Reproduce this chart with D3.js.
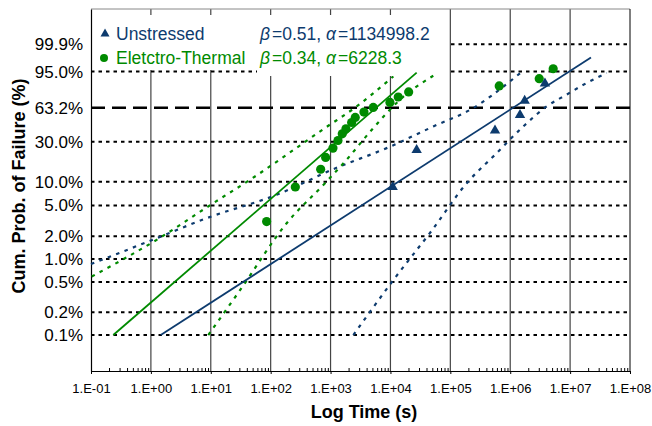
<!DOCTYPE html>
<html>
<head>
<meta charset="utf-8">
<script src="https://cdnjs.cloudflare.com/ajax/libs/d3/7.8.5/d3.min.js"></script>
<style>
body { margin: 0; background: #fff; }
svg { display: block; font-family: "Liberation Sans", Arial, sans-serif; }
</style>
</head>
<body>
<svg id="chart" width="652" height="426"></svg>
<script>
// ---- data (time in s, cumulative failure in %) ----
var unstressedT = [10890, 27400, 557000, 1456000, 1743000, 3800000];
var unstressedF = [8.9, 25.0, 40.5, 56.7, 72.4, 88.6];

var thermalT = [85.7, 258, 684, 828, 1097, 1330, 1568, 1807, 2250, 2583, 3610, 5164, 9817, 13500, 20130, 654800, 3050000, 5220000];
var thermalF = [3.1, 8.6, 14.3, 19.8, 25.4, 30.9, 36.4, 41.0, 47.2, 52.5, 58.4, 63.5, 69.1, 75.0, 80.1, 85.6, 91.1, 96.2];

// fitted lines, [t, F%] end points
var unstressedFit = [[1.46, 0.1], [2.23e7, 99.0]];
var thermalFit = [[0.2355, 0.1], [27400, 94.5]];

// confidence bounds, [t, F%]
var unstressedUpper = [[0.1, 0.86], [1.25, 1.88], [8.55, 3.43], [126, 6.85], [1233, 14.8], [8650, 25.4], [51900, 43.2], [241500, 62.9], [990000, 89.2], [1570000, 95.0]];
var unstressedLower = [[2400, 0.1], [11170, 0.53], [48860, 2.36], [187600, 9.6], [557000, 21.3], [1650000, 43.2], [4060000, 64.7], [8770000, 77.5], [18900000, 88.0], [40800000, 94.4]];
var thermalUpper = [[0.1027, 0.59], [1.25, 1.79], [11.0, 5.36], [45.2, 10.6], [807, 41.7], [2730, 64.7], [11170, 92.5]];
var thermalLower = [[9.08, 0.1], [30.8, 0.39], [185, 2.95], [807, 9.6], [1742, 17.7], [5176, 41.7], [14420, 72.1], [51900, 92.9]];

var yTicks = [0.1, 0.2, 0.5, 1, 2, 5, 10, 30, 63.2, 95, 99.9];
var xTicks = [1e-1, 1e0, 1e1, 1e2, 1e3, 1e4, 1e5, 1e6, 1e7, 1e8];

var legendNames = ["Unstressed", "Eletctro-Thermal"];
var legendBeta = ["0.51", "0.34"];
var legendAlpha = ["1134998.2", "6228.3"];

var blue = "#0d3b6e", green = "#008a00";

var svg = d3.select("#chart");
var pLeft = 91, pRight = 630, pTop = 9, pBottom = 371;

// weibull probability transform
function wb(F) { return Math.log(-Math.log(1 - F / 100)); }

var x = d3.scaleLog().domain([1e-1, 1e8]).range([pLeft, pRight]);
var y = d3.scaleLinear().domain([-8, 3]).range([pBottom, pTop]);

// vertical gridlines
svg.append("g").selectAll("line")
  .data(xTicks.slice(1, -1))
  .enter().append("line")
  .attr("x1", d => x(d)).attr("x2", d => x(d))
  .attr("y1", pTop).attr("y2", pBottom)
  .attr("stroke", "#444").attr("stroke-width", 1.2);

// horizontal gridlines
svg.append("g").selectAll("line")
  .data(yTicks)
  .enter().append("line")
  .attr("x1", pLeft).attr("x2", pRight)
  .attr("y1", d => y(wb(d))).attr("y2", d => y(wb(d)))
  .attr("stroke", "#000")
  .attr("stroke-width", d => d == 63.2 ? 2.4 : 2)
  .attr("stroke-dasharray", d => d == 63.2 ? "14,7" : "3.5,4");

// frame
svg.append("line").attr("x1", pLeft).attr("x2", pRight).attr("y1", pTop).attr("y2", pTop)
  .attr("stroke", "#888").attr("stroke-width", 1);
svg.append("line").attr("x1", pRight).attr("x2", pRight).attr("y1", pTop).attr("y2", pBottom)
  .attr("stroke", "#000").attr("stroke-width", 1);

// legend backgrounds (hide gridlines behind)
svg.append("rect").attr("x", pLeft + 1).attr("y", 15).attr("width", 166).attr("height", 55).attr("fill", "#fff");
svg.append("rect").attr("x", 257).attr("y", 15).attr("width", 191).attr("height", 61).attr("fill", "#fff");

// x axis
var xAxis = d3.axisBottom(x).tickValues(xTicks).tickSize(3).tickSizeOuter(0).tickPadding(10)
  .tickFormat(function (d) {
    var e = Math.round(Math.log10(d));
    return "1.E" + (e < 0 ? "-" : "+") + String(Math.abs(e)).padStart(2, "0");
  });
var gx = svg.append("g").attr("transform", "translate(0," + pBottom + ")").call(xAxis);
gx.select(".domain").attr("stroke", "#000").attr("stroke-width", 1.2);
gx.selectAll(".tick line").attr("stroke", "#000");
gx.selectAll(".tick text").attr("font-size", 13).attr("font-family", null).attr("fill", "#000").attr("dy", "0.71em");

// minor ticks (inside)
var minors = [];
xTicks.slice(0, -1).forEach(function (d) { for (var k = 2; k < 10; k++) minors.push(d * k); });
svg.append("g").attr("transform", "translate(0," + pBottom + ")")
  .call(d3.axisBottom(x).tickValues(minors).tickSize(-3).tickFormat(""))
  .call(g => g.select(".domain").remove())
  .selectAll(".tick line").attr("stroke", "#000");

// y axis
var yAxis = d3.axisLeft(y).tickValues(yTicks.map(wb)).tickSize(0).tickPadding(8)
  .tickFormat(function (d, i) { return d3.format(".1f")(yTicks[i]) + "%"; });
var gy = svg.append("g").attr("transform", "translate(" + pLeft + ",0)").call(yAxis);
gy.select(".domain").attr("stroke", "#000").attr("stroke-width", 1.2);
gy.selectAll(".tick text").attr("font-size", 17).attr("font-family", null).attr("fill", "#000");

// axis titles
svg.append("text").attr("x", 364).attr("y", 418).attr("text-anchor", "middle")
  .attr("font-size", 18).attr("font-weight", "bold").text("Log Time (s)");
svg.append("text").attr("transform", "translate(25,186) rotate(-90)").attr("text-anchor", "middle")
  .attr("font-size", 18).attr("font-weight", "bold").text("Cum. Prob. of Failure (%)");

// lines
var line = d3.line().x(d => x(d[0])).y(d => y(wb(d[1]))).curve(d3.curveMonotoneX);

function bound(data, color) {
  svg.append("path").attr("d", line(data)).attr("fill", "none")
    .attr("stroke", color).attr("stroke-width", 2.2).attr("stroke-dasharray", "3.5,5.5");
}
bound(unstressedUpper, blue);
bound(unstressedLower, blue);
bound(thermalUpper, green);
bound(thermalLower, green);

svg.append("path").attr("d", d3.line().x(d => x(d[0])).y(d => y(wb(d[1])))(unstressedFit))
  .attr("fill", "none").attr("stroke", blue).attr("stroke-width", 1.8);
svg.append("path").attr("d", d3.line().x(d => x(d[0])).y(d => y(wb(d[1])))(thermalFit))
  .attr("fill", "none").attr("stroke", green).attr("stroke-width", 1.8);

// points
var tri = "M0,-4.7L5.2,4.3L-5.2,4.3Z";
svg.append("g").selectAll("circle")
  .data(thermalT)
  .enter().append("circle")
  .attr("cx", d => x(d)).attr("cy", (d, i) => y(wb(thermalF[i])))
  .attr("r", 4.6).attr("fill", green);
svg.append("g").selectAll("path")
  .data(unstressedT)
  .enter().append("path")
  .attr("d", tri)
  .attr("transform", (d, i) => "translate(" + x(d) + "," + y(wb(unstressedF[i])) + ")")
  .attr("fill", blue);

// legend
var lg = svg.append("g").attr("font-size", 17.5);
lg.append("path").attr("d", "M0,-4.5L4.5,3.5L-4.5,3.5Z").attr("transform", "translate(105,33)").attr("fill", blue);
lg.append("circle").attr("cx", 104).attr("cy", 58).attr("r", 4).attr("fill", green);
[blue, green].forEach(function (c, i) {
  var yy = 39.5 + i * 24;
  lg.append("text").attr("x", 116).attr("y", yy).attr("fill", c).text(legendNames[i]);
  var t = lg.append("text").attr("x", 260).attr("y", yy).attr("fill", c);
  t.append("tspan").attr("font-style", "italic").text("\u03b2");
  t.append("tspan").attr("dx", 2).text("=" + legendBeta[i] + ", ");
  t.append("tspan").attr("font-style", "italic").text("\u03b1");
  t.append("tspan").attr("dx", 2).text("=" + legendAlpha[i]);
});
</script>
</body>
</html>
